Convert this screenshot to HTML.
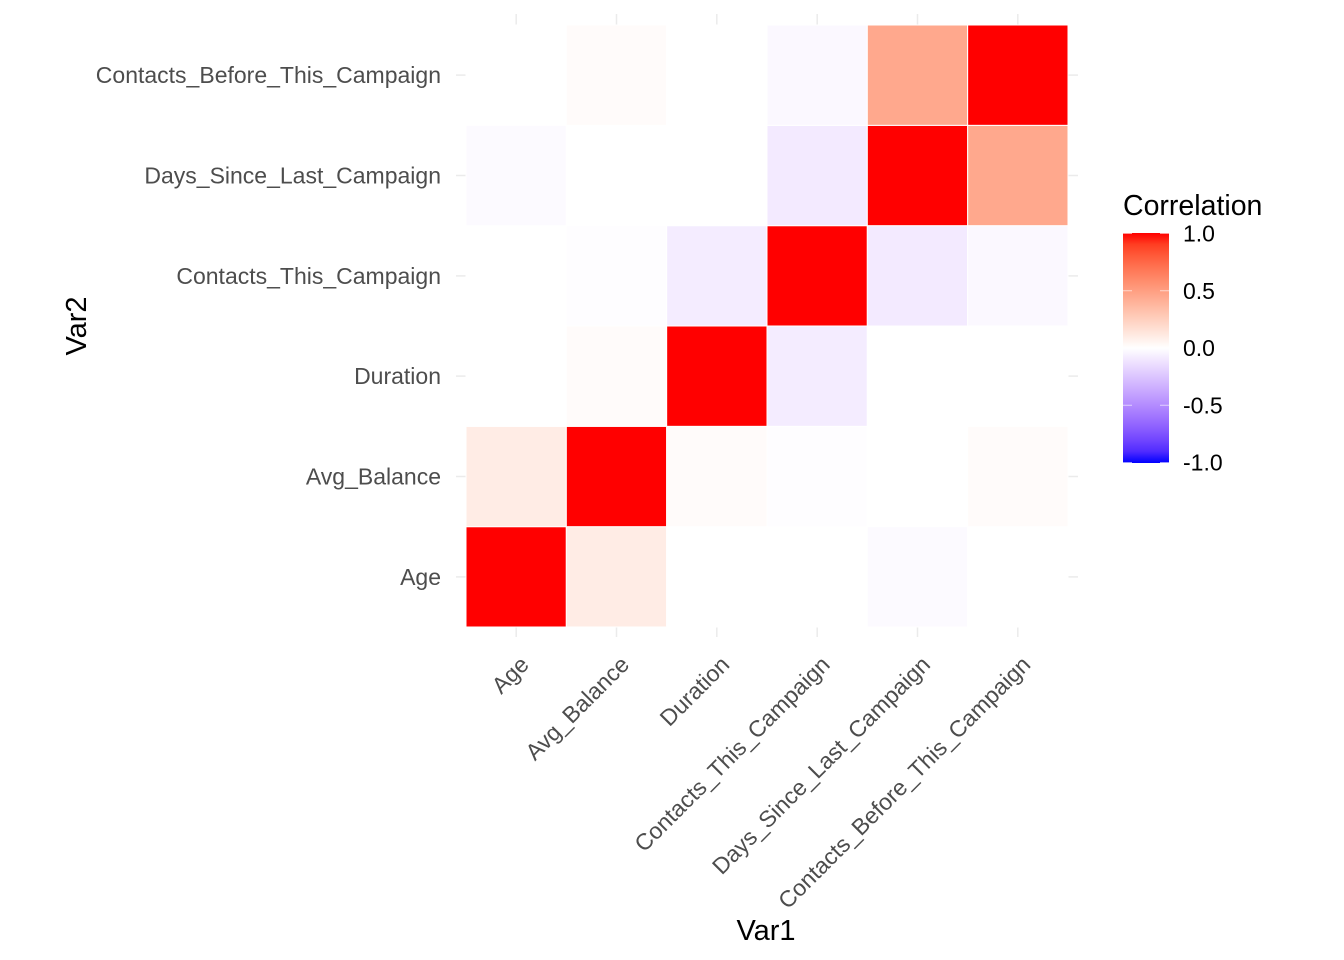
<!DOCTYPE html>
<html><head><meta charset="utf-8"><style>
body{margin:0;background:#fff;}
svg{display:block;font-family:"Liberation Sans",Arial,sans-serif;}
</style></head><body>
<svg id="chart" width="1344" height="960" viewBox="0 0 1344 960">
<defs>
<linearGradient id="lg" x1="0" y1="1" x2="0" y2="0"></linearGradient>
</defs>
<g id="grid"></g><g id="tiles"></g><g id="axes"></g>
<text x="766" y="940" font-size="29" text-anchor="middle" fill="#000">Var1</text>
<text transform="translate(86,326) rotate(-90)" font-size="29" text-anchor="middle" fill="#000">Var2</text>
<g id="legend">
<text x="1123" y="215" font-size="28.5" fill="#000">Correlation</text>
<rect x="1123" y="233" width="46" height="230" fill="url(#lg)"/>
</g>
</svg>
<script>
const categories=["Age","Avg_Balance","Duration","Contacts_This_Campaign","Days_Since_Last_Campaign","Contacts_Before_This_Campaign"];
// values[row Var2][col Var1]
const rowAge=[1,0.1,0.0,0.0,-0.02,0.0];
const rowAvgBalance=[0.1,1,0.02,-0.01,0.0,0.02];
const rowDuration=[0.0,0.02,1,-0.08,0.0,0.0];
const rowContactsThis=[0.0,-0.01,-0.08,1,-0.09,-0.03];
const rowDaysSince=[-0.02,0.0,0.0,-0.09,1,0.45];
const rowContactsBefore=[0.0,0.02,0.0,-0.03,0.45,1];
const legendTicks=[1.0,0.5,0.0,-0.5,-1.0];
const values=[rowAge,rowAvgBalance,rowDuration,rowContactsThis,rowDaysSince,rowContactsBefore];

const NS="http://www.w3.org/2000/svg";
const x0=466,x1=1068,y0=627,y1=25,n=categories.length;
const cw=(x1-x0)/n,ch=(y0-y1)/n;
const xc=i=>x0+cw*(i+0.5), yc=j=>y0-ch*(j+0.5);
const ly=v=>348-v*114.5;

function s2l(c){c/=255;return c<=0.04045?c/12.92:Math.pow((c+0.055)/1.055,2.4);}
function l2s(c){c=c<=0.0031308?12.92*c:1.055*Math.pow(c,1/2.4)-0.055;return Math.round(Math.max(0,Math.min(1,c))*255);}
function toLab(r,g,b){r=s2l(r);g=s2l(g);b=s2l(b);
let X=(0.4124*r+0.3576*g+0.1805*b)/0.95047,Y=0.2126*r+0.7152*g+0.0722*b,Z=(0.0193*r+0.1192*g+0.9505*b)/1.08883;
const f=t=>t>0.008856?Math.cbrt(t):7.787*t+16/116;X=f(X);Y=f(Y);Z=f(Z);return[116*Y-16,500*(X-Y),200*(Y-Z)];}
function fromLab(L,a,b){let Y=(L+16)/116,X=a/500+Y,Z=Y-b/200;
const g=t=>t**3>0.008856?t**3:(t-16/116)/7.787;X=g(X)*0.95047;Y=g(Y);Z=g(Z)*1.08883;
const r=3.2406*X-1.5372*Y-0.4986*Z,gg=-0.9689*X+1.8758*Y+0.0415*Z,bb=0.0557*X-0.2040*Y+1.0570*Z;
return `rgb(${l2s(r)},${l2s(gg)},${l2s(bb)})`;}
const W=toLab(255,255,255),R=toLab(255,0,0),B=toLab(0,0,255);
function col(v){const t=Math.min(1,Math.abs(v)),e=v>=0?R:B;return fromLab(W[0]+(e[0]-W[0])*t,W[1]+(e[1]-W[1])*t,W[2]+(e[2]-W[2])*t);}

const grid=document.getElementById('grid');
for(let i=0;i<n;i++){
  const l=document.createElementNS(NS,'line');
  l.setAttribute('x1',xc(i));l.setAttribute('x2',xc(i));l.setAttribute('y1',14);l.setAttribute('y2',637);
  l.setAttribute('stroke','#ebebeb');l.setAttribute('stroke-width','1.5');
  
  
  grid.appendChild(l);
  const m=document.createElementNS(NS,'line');
  m.setAttribute('y1',yc(i));m.setAttribute('y2',yc(i));m.setAttribute('x1',456);m.setAttribute('x2',1078);
  m.setAttribute('stroke','#ebebeb');m.setAttribute('stroke-width','1.5');
  
  
  grid.appendChild(m);
}
const tiles=document.getElementById('tiles');
values.forEach((row,j)=>row.forEach((v,i)=>{
  const r=document.createElementNS(NS,'rect');
  r.setAttribute('x',x0+cw*i);r.setAttribute('y',y0-ch*(j+1));r.setAttribute('width',cw);r.setAttribute('height',ch);
  r.setAttribute('fill',col(v));r.setAttribute('stroke','#fff');r.setAttribute('stroke-width','1');
  
  
  tiles.appendChild(r);
}));
const axes=document.getElementById('axes');
categories.forEach((c,i)=>{
  const t=document.createElementNS(NS,'text');
  t.setAttribute('x',441);t.setAttribute('y',yc(i)+8);t.setAttribute('text-anchor','end');
  t.setAttribute('font-size','23');t.setAttribute('fill','#4d4d4d');t.textContent=c;
  
  
  axes.appendChild(t);
  const u=document.createElementNS(NS,'text');
  const ax=xc(i)+14,ay=666;
  u.setAttribute('transform',`translate(${ax},${ay}) rotate(-45)`);u.setAttribute('text-anchor','end');
  u.setAttribute('font-size','23');u.setAttribute('fill','#4d4d4d');u.textContent=c;
  
  
  axes.appendChild(u);
});
const lg=document.getElementById('lg');
for(let k=0;k<=20;k++){const v=-1+k*0.1;
  const s=document.createElementNS(NS,'stop');s.setAttribute('offset',(k/20));s.setAttribute('stop-color',col(v));lg.appendChild(s);}
const leg=document.getElementById('legend');
legendTicks.forEach(v=>{
  const t=document.createElementNS(NS,'text');
  t.setAttribute('x',1183);t.setAttribute('y',ly(v)+8);t.setAttribute('font-size','23');t.setAttribute('fill','#000');
  t.textContent=v.toFixed(1);
  
  
  leg.appendChild(t);
  [1123,1160].forEach(xx=>{const l=document.createElementNS(NS,'line');
    l.setAttribute('x1',xx);l.setAttribute('x2',xx+9);l.setAttribute('y1',ly(v));l.setAttribute('y2',ly(v));
    l.setAttribute('stroke','#fff');l.setAttribute('stroke-opacity','0.6');
    
    
    leg.appendChild(l);});
});
</script>
</body></html>
